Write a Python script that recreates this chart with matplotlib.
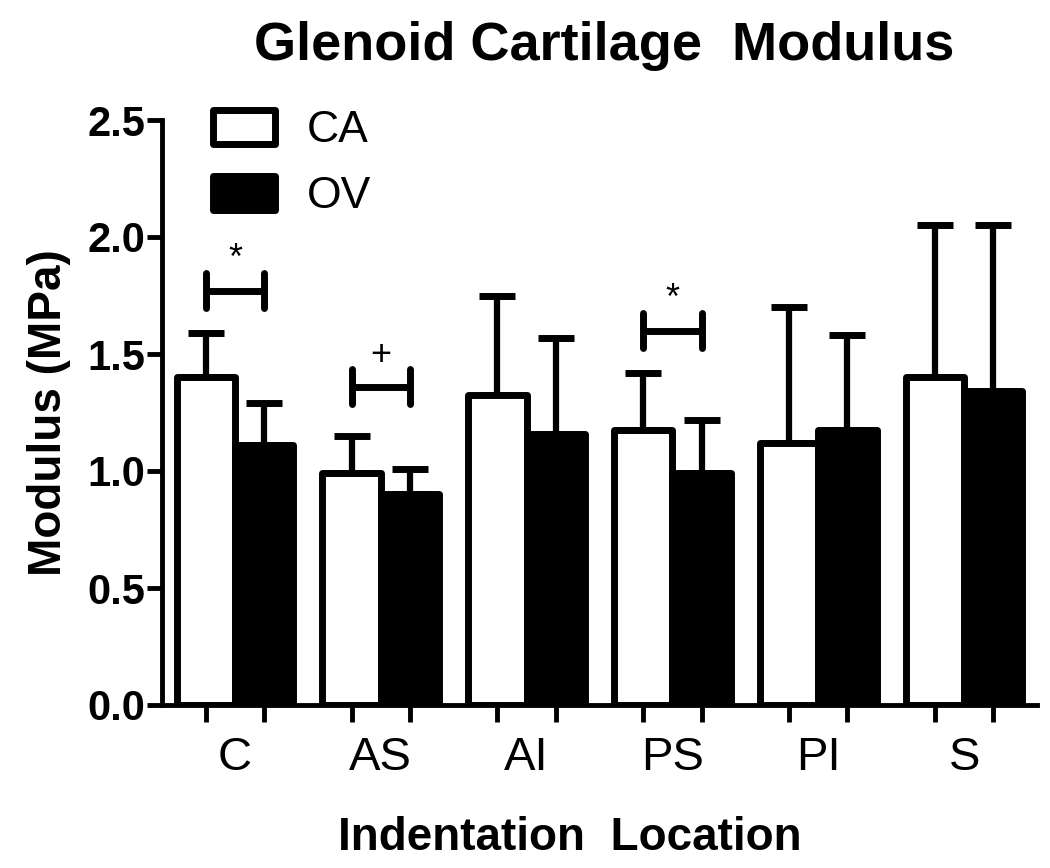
from matplotlib import pyplot as plt
import numpy as np

plt.rcParams['font.family'] = ['Liberation Sans', 'DejaVu Sans']

# Data
locations = ["C", "AS", "AI", "PS", "PI", "S"]
ca_mean = [1.40, 0.99, 1.325, 1.175, 1.12, 1.40]
ca_sd = [0.19, 0.16, 0.425, 0.245, 0.58, 0.65]
ov_mean = [1.11, 0.90, 1.16, 0.99, 1.175, 1.34]
ov_sd = [0.18, 0.11, 0.41, 0.23, 0.405, 0.71]

# Significance brackets
sig_groups = [0, 1, 3]
sig_heights = [1.77, 1.36, 1.60]
sig_marks = ["*", "+", "*"]

x = np.arange(len(locations))
width = 0.4
x_ca = x - width / 2
x_ov = x + width / 2

fig = plt.figure(figsize=(10.5, 8.68), dpi=100)
ax = fig.add_axes([162 / 1050, 1 - 705 / 868, 875 / 1050, 585 / 868])

# Error bars first so the bar outline hides the lower cap
ax.errorbar(x_ca, ca_mean, yerr=[np.zeros(len(x)), ca_sd], fmt='none',
            ecolor='black', elinewidth=4.5, capsize=13, capthick=5, zorder=1)
ax.errorbar(x_ov, ov_mean, yerr=[np.zeros(len(x)), ov_sd], fmt='none',
            ecolor='black', elinewidth=4.5, capsize=13, capthick=5, zorder=1)

bars_ca = ax.bar(x_ca, ca_mean, width, color='white', edgecolor='black',
                 linewidth=5, label='CA', zorder=2)
bars_ov = ax.bar(x_ov, ov_mean, width, color='black', edgecolor='black',
                 linewidth=5, label='OV', zorder=2)
for p in list(bars_ca) + list(bars_ov):
    p.set_joinstyle('round')

# Brackets with markers
for g, h, m in zip(sig_groups, sig_heights, sig_marks):
    x0, x1 = x_ca[g], x_ov[g]
    ax.plot([x0, x1], [h, h], color='black', lw=5, solid_capstyle='butt')
    ax.plot([x0, x0], [h - 0.075, h + 0.075], color='black', lw=5,
            solid_capstyle='round')
    ax.plot([x1, x1], [h - 0.075, h + 0.075], color='black', lw=5,
            solid_capstyle='round')
    ax.text((x0 + x1) / 2, h + 0.06, m, ha='center', va='bottom',
            fontsize=26)

ax.set_xlim(-0.5, 5.5)
ax.set_ylim(0, 2.5)

# Axes styling (Prism look)
for s in ['top', 'right']:
    ax.spines[s].set_visible(False)
for s in ['left', 'bottom']:
    ax.spines[s].set_linewidth(3.5)

ax.set_yticks(np.arange(0, 2.51, 0.5))
ax.set_yticklabels(["%.1f" % v for v in np.arange(0, 2.51, 0.5)],
                   fontsize=30, fontweight='bold')
ax.tick_params(axis='y', direction='out', length=11, width=3.5, pad=1)

# ticks under each bar, labels under each group
ax.set_xticks(np.concatenate([x_ca, x_ov]))
ax.set_xticklabels([])
ax.tick_params(axis='x', which='major', direction='out', length=12, width=3.5)
ax.set_xticks(x, minor=True)
ax.set_xticklabels(locations, minor=True, fontsize=34)
ax.tick_params(axis='x', which='minor', length=0, pad=22)

ax.set_ylabel("Modulus (MPa)", fontsize=33, fontweight='bold', labelpad=12)
ax.set_xlabel("Indentation  Location", fontsize=33, fontweight='bold')
ax.xaxis.set_label_coords(0.466, -0.19)

fig.text(0.575, 0.947, "Glenoid Cartilage  Modulus", ha='center',
         va='center', fontsize=39, fontweight='bold')

leg = ax.legend(loc='upper left', bbox_to_anchor=(0.033, 1.055), frameon=False,
                fontsize=32, handlelength=1.4, handleheight=0.8,
                labelspacing=0.55, handletextpad=0.7, borderpad=0)
for h in leg.legend_handles:
    h.set_joinstyle('round')

plt.savefig("out.png", dpi=100)
